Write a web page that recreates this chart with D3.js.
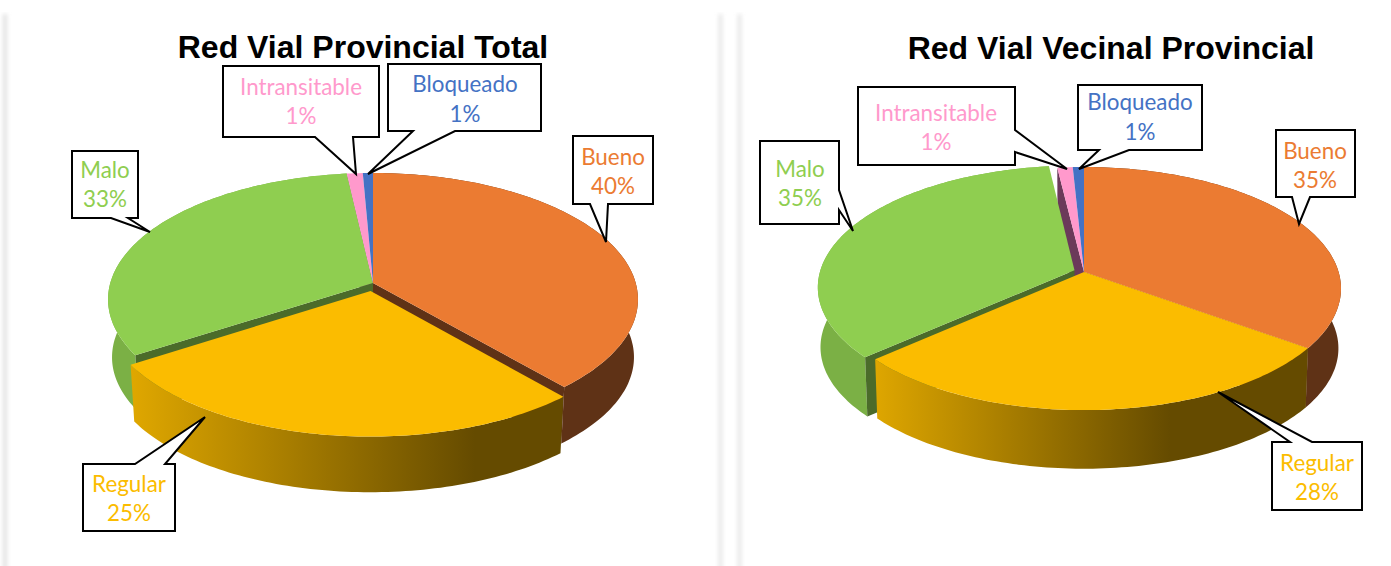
<!DOCTYPE html>
<html><head><meta charset="utf-8">
<script src="https://cdnjs.cloudflare.com/ajax/libs/d3/7.8.5/d3.min.js"></script>
<style>html,body{margin:0;padding:0;background:#fff;overflow:hidden}svg{display:block}</style>
</head><body><svg id="c" width="1391" height="566"></svg>
<script>
// ---- data ----
const categories = ["Bueno","Regular","Malo","Intransitable","Bloqueado"];
// percentages printed on the callouts
const totalLabels = [40,25,33,1,1];
const vecinalLabels = [35,28,35,1,1];
const totalShares = [38.6,27.3,32.3,1.1,0.7];
const vecinalShares = [35,28.4,34.7,1.1,0.8];
const titles = ["Red Vial Provincial Total","Red Vial Vecinal Provincial"];
// ---- styles / layout ----
const topColours = ["#EB7B32","#FBBC00","#8FCE50","#FF99CC","#4472C4"];
const sideColours = ["#5F3216","#FBBC00","#7BB045","#6B3A5A","#2A4576"];
const wallColours = ["#5F3216","#664C00","#4B6B2A","#6B3A5A","#2A4576"];
const topColour = d3.scaleOrdinal(categories, topColours);
const sideColour = d3.scaleOrdinal(categories, sideColours);
const wallColour = d3.scaleOrdinal(categories, wallColours);
const layouts = [
 {values:totalShares, labels:totalLabels, cx:373, apexY:283, R:262.7, Ry:124.3, p:0.13, depth:58, shrink:0.985,
  explode:{Regular:0.065}, titleX:363, titleY:58, grad:[132,475],
  boxes:{
   Bueno:{r:[573,136,653,204], tail:[[590,204],[606,242],[608,204]], t:[613,157,186]},
   Regular:{r:[83,464,175,531], tail:[[135,464],[205,417],[165,464]], t:[129,484,513]},
   Malo:{r:[72,151,138,218], tail:[[111,218],[150,232],[128,218]], t:[105,170,199]},
   Intransitable:{r:[223,66,379,137], tail:[[315,137],[356,174],[353,137]], t:[301,87,116]},
   Bloqueado:{r:[388,64,541,131], tail:[[413,131],[368,174],[455,131]], t:[465,84,114]}
  }},
 {values:vecinalShares, labels:vecinalLabels, cx:1084, apexY:272, R:254.6, Ry:119.3, p:0.136, depth:60, shrink:0.99,
  explode:{Malo:0.04}, titleX:1111, titleY:59, grad:[873,1170],
  boxes:{
   Bueno:{r:[1276,130,1355,197], tail:[[1292,197],[1299,224],[1310,197]], t:[1315,151,180]},
   Regular:{r:[1272,442,1362,510], tail:[[1290,442],[1218,392],[1312,442]], t:[1317,463,492]},
   Malo:{r:[760,141,839,224], tail:[[839,190],[853,231],[839,210]], t:[800,169,198]},
   Intransitable:{r:[858,87,1015,165], tail:[[1015,130],[1067,169],[1015,152]], t:[936,113,142]},
   Bloqueado:{r:[1078,85,1202,150], tail:[[1099,150],[1079,169],[1129,150]], t:[1140,102,132]}
  }}
];
const svg = d3.select("#c");
const defs = svg.append("defs");
defs.append("filter").attr("id","soft").attr("x","-200%").attr("width","500%")
  .append("feGaussianBlur").attr("stdDeviation",2);
// panel shadows
[[3,4],[719,3],[738,3]].forEach(([x,w])=>{
  svg.append("rect").attr("x",x).attr("y",14).attr("width",w).attr("height",560)
     .attr("fill","#e0e0e0").attr("filter","url(#soft)");
});
svg.append("rect").attr("x",0).attr("y",0).attr("width",1391).attr("height",12).attr("fill","#fff");
const line = d3.line();
const pie = d3.pie().sort(null);

layouts.forEach((L,i)=>{
  const slices = pie(L.values).map((s,k)=>({...s,name:categories[k],label:L.labels[k]}));
  const proj = (theta,r,e,lower)=>{
    const ex = e ? e.e*Math.sin(e.a) : 0, en = e ? -e.e*Math.cos(e.a) : 0;
    const X = r*Math.sin(theta)+ex, n = -r*Math.cos(theta)+en;
    const f = 1/(1-L.p*n), s = lower?L.shrink:1;
    return [L.cx+L.R*X*f*s, L.apexY+L.Ry*n*f*s+(lower?L.depth:0)];
  };
  slices.forEach(s=>{
    s.e = L.explode[s.name] ? {e:L.explode[s.name], a:(s.startAngle+s.endAngle)/2} : null;
    const n = Math.max(2,Math.ceil((s.endAngle-s.startAngle)/0.02));
    s.angles = d3.range(n+1).map(j=>s.startAngle+(s.endAngle-s.startAngle)*j/n);
  });
  const gid = "rim"+i;
  const g = defs.append("linearGradient").attr("id",gid).attr("gradientUnits","userSpaceOnUse")
    .attr("x1",L.grad[0]).attr("x2",L.grad[1]).attr("y1",0).attr("y2",0);
  g.append("stop").attr("offset",0).attr("stop-color","#DFA700");
  g.append("stop").attr("offset",1).attr("stop-color","#654B00");

  const rimPath = s => line([...s.angles.map(a=>proj(a,1,s.e,false)),
                             ...s.angles.slice().reverse().map(a=>proj(a,1,s.e,true))])+"Z";
  const wallPath = (s,a) => line([proj(a,0,s.e,false),proj(a,1,s.e,false),proj(a,1,s.e,true),proj(a,0,s.e,true)])+"Z";
  const topPath = s => line([proj(0,0,s.e,false),...s.angles.map(a=>proj(a,1,s.e,false))])+"Z";

  const pg = svg.append("g");
  const by = n => slices.find(s=>s.name===n);
  // side walls and rims, far to near
  pg.append("path").attr("d",wallPath(by("Intransitable"),by("Intransitable").startAngle)).attr("fill",wallColour("Intransitable"));
  pg.append("path").attr("d",rimPath(by("Malo"))).attr("fill",sideColour("Malo"));
  pg.append("path").attr("d",wallPath(by("Malo"),by("Malo").startAngle)).attr("fill",wallColour("Malo"));
  pg.append("path").attr("d",rimPath(by("Bueno"))).attr("fill",sideColour("Bueno"));
  pg.append("path").attr("d",wallPath(by("Bueno"),by("Bueno").endAngle)).attr("fill",wallColour("Bueno"));
  // top faces
  pg.selectAll(".top").data(slices.filter(s=>s.name!=="Regular")).join("path")
    .attr("d",topPath).attr("fill",s=>topColour(s.name));
  // near slice
  pg.append("path").attr("d",rimPath(by("Regular"))).attr("fill",`url(#${gid})`);
  pg.append("path").attr("d",topPath(by("Regular"))).attr("fill",topColour("Regular"));

  // title
  svg.append("text").text(titles[i]).attr("x",L.titleX).attr("y",L.titleY).attr("text-anchor","middle")
     .attr("font-family","Liberation Sans").attr("font-weight","bold").attr("font-size",32).attr("fill","#000");

  // callouts
  slices.forEach(s=>{
    const b = L.boxes[s.name], [x0,y0,x1,y1]=b.r;
    const pct = s.label+"%";
    const [a,tip,c]=b.tail;
    let pts;
    if(a[1]===y1) pts=[[x0,y0],[x1,y0],[x1,y1],c,tip,a,[x0,y1]];
    else if(a[1]===y0) pts=[[x0,y0],a,tip,c,[x1,y0],[x1,y1],[x0,y1]];
    else if(a[0]===x1) pts=[[x0,y0],[x1,y0],a,tip,c,[x1,y1],[x0,y1]];
    else pts=[[x0,y0],[x1,y0],[x1,y1],[x0,y1],c,tip,a];
    const cg = svg.append("g");
    cg.append("path").attr("d",line(pts)+"Z").attr("fill","#fff").attr("stroke","#000").attr("stroke-width",2).attr("stroke-linejoin","miter");
    [[s.name,b.t[1]],[pct,b.t[2]]].forEach(([txt,y])=>{
      cg.append("text").text(txt).attr("x",b.t[0]).attr("y",y).attr("dy","0.36em").attr("text-anchor","middle")
        .attr("font-family","Lato").attr("font-size",22.4).attr("fill",topColour(s.name));
    });
  });
});
</script></body></html>
